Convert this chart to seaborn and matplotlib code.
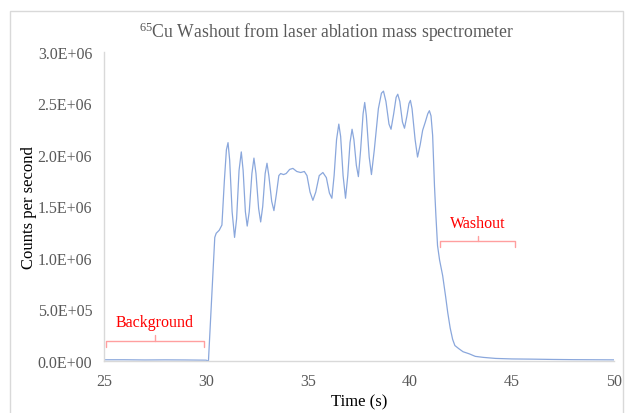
import matplotlib
matplotlib.use("Agg")
import matplotlib.pyplot as plt
from matplotlib.patches import Rectangle
from matplotlib.ticker import FuncFormatter, MultipleLocator
import seaborn as sns
import pandas as pd

# 65Cu signal: time (s) and counts per second (millions)
time_s = [25.0, 26.0, 27.0, 28.0, 29.0, 30.0, 30.12,
          30.43, 30.5, 30.65, 30.78, 30.9, 31.0, 31.08, 31.16, 31.28, 31.40,
          31.5, 31.62, 31.73, 31.82, 31.93, 32.02, 32.12, 32.25, 32.35, 32.45,
          32.58, 32.68, 32.78, 32.9, 32.99, 33.08, 33.22, 33.33, 33.45, 33.57,
          33.66, 33.8, 33.93, 34.1, 34.26, 34.45, 34.64, 34.82, 34.95, 35.1,
          35.24, 35.38, 35.55, 35.73, 35.9, 36.05, 36.17, 36.28, 36.4, 36.51,
          36.6, 36.72, 36.84, 36.95, 37.06, 37.16, 37.25, 37.37, 37.47, 37.58,
          37.7, 37.78, 37.86, 38.0, 38.11, 38.25, 38.45, 38.6, 38.70, 38.82,
          38.97, 39.07, 39.2, 39.32, 39.40, 39.5, 39.63, 39.73, 39.85, 39.95,
          40.02, 40.1, 40.25, 40.37, 40.5, 40.62, 40.75, 40.87, 40.95, 41.03,
          41.11, 41.2, 41.27, 41.35, 41.45, 41.60, 41.75, 41.85, 41.97, 42.09,
          42.2, 42.39, 42.6, 42.9, 43.2, 43.6, 44.2, 45.0, 46.0, 47.0, 48.0,
          49.0, 50.0]
counts_m = [0.012, 0.012, 0.010, 0.011, 0.010, 0.008, 0.0,
            1.20, 1.24, 1.27, 1.32, 1.75, 2.05, 2.12, 1.95, 1.45, 1.20,
            1.38, 1.85, 2.03, 1.85, 1.45, 1.31, 1.45, 1.82, 1.97, 1.82,
            1.48, 1.35, 1.50, 1.82, 1.92, 1.80, 1.55, 1.46, 1.62, 1.80,
            1.82, 1.81, 1.82, 1.86, 1.87, 1.84, 1.83, 1.84, 1.80, 1.64,
            1.56, 1.64, 1.80, 1.83, 1.78, 1.63, 1.58, 1.80, 2.15, 2.30,
            2.18, 1.80, 1.58, 1.80, 2.12, 2.25, 2.15, 1.90, 1.79, 2.05,
            2.40, 2.51, 2.38, 1.98, 1.81, 2.05, 2.45, 2.60, 2.62, 2.52,
            2.30, 2.25, 2.40, 2.56, 2.59, 2.52, 2.32, 2.26, 2.38, 2.50,
            2.53, 2.45, 2.15, 1.98, 2.10, 2.24, 2.32, 2.40, 2.43, 2.38,
            2.19, 1.70, 1.41, 1.12, 0.98, 0.83, 0.62, 0.47, 0.32, 0.21,
            0.15, 0.12, 0.09, 0.07, 0.045, 0.035, 0.025, 0.020, 0.018, 0.015, 0.013,
            0.012, 0.011]

x_ticks = [25, 30, 35, 40, 45, 50]
title_text = r"$^{65}$Cu Washout from laser ablation mass spectrometer"
x_label = "Time (s)"
y_label = "Counts per second"

df = pd.DataFrame({"t": time_s, "cps": [v * 1e6 for v in counts_m]})

sns.set_theme(style="white")
plt.rcParams["font.family"] = ["Liberation Serif", "DejaVu Serif"]
plt.rcParams["mathtext.fontset"] = "custom"
plt.rcParams["mathtext.rm"] = "Liberation Serif"
plt.rcParams["mathtext.it"] = "Liberation Serif:italic"

fig = plt.figure(figsize=(6.26, 4.14), dpi=100)
ax = fig.add_axes([104 / 626, 1 - 362 / 414, (614 - 104) / 626, (362 - 53) / 414])

# outer chart frame (bottom edge runs off the canvas)
fig.patches.append(Rectangle((10 / 626, -0.01), 613 / 626, 1 - 12 / 414 + 0.01,
                             transform=fig.transFigure, fill=False,
                             edgecolor="#d9d9d9", linewidth=1.0))

sns.lineplot(data=df, x="t", y="cps", ax=ax, color="#8aa7dc", linewidth=0.9)

ax.set_xlim(25, 50)
ax.set_ylim(0, 3.0e6)
ax.set_xticks(x_ticks)
ax.yaxis.set_major_locator(MultipleLocator(5e5))
ax.yaxis.set_major_formatter(FuncFormatter(lambda v, p: f"{v:.1E}"))

for side in ["top", "right"]:
    ax.spines[side].set_visible(False)
for side in ["left", "bottom"]:
    ax.spines[side].set_color("#d9d9d9")
    ax.spines[side].set_linewidth(1.0)
ax.tick_params(axis="both", length=0, labelsize=11.5, labelcolor="#595959")
ax.tick_params(axis="y", pad=8.5)
ax.tick_params(axis="x", pad=9)

ax.set_xlabel(x_label, fontsize=12, color="black", labelpad=3)
ax.set_ylabel(y_label, fontsize=12, color="black", labelpad=0)
ax.yaxis.set_label_coords(-(104 - 37) / 510, 0.5)
fig.text(326 / 626, 1 - 32 / 414, title_text, fontsize=12.7, color="#595959",
         ha="center", va="center")

red = "#ff0000"
br = "#ff9f9f"

# Background bracket
ax.plot([25.1, 25.1, 29.9, 29.9], [0.136e6, 0.197e6, 0.197e6, 0.136e6], color=br, lw=1.0)
ax.plot([27.5, 27.5], [0.197e6, 0.252e6], color=br, lw=1.0)
ax.text(27.5, 0.34e6, "Background", color=red, fontsize=11.5, ha="center", va="baseline")

# Washout bracket
ax.plot([41.47, 41.47, 45.14, 45.14], [1.11e6, 1.162e6, 1.162e6, 1.11e6], color=br, lw=1.0)
ax.plot([43.31, 43.31], [1.162e6, 1.217e6], color=br, lw=1.0)
ax.text(43.31, 1.30e6, "Washout", color=red, fontsize=11.5, ha="center", va="baseline")

fig.savefig("out.png", dpi=100)
